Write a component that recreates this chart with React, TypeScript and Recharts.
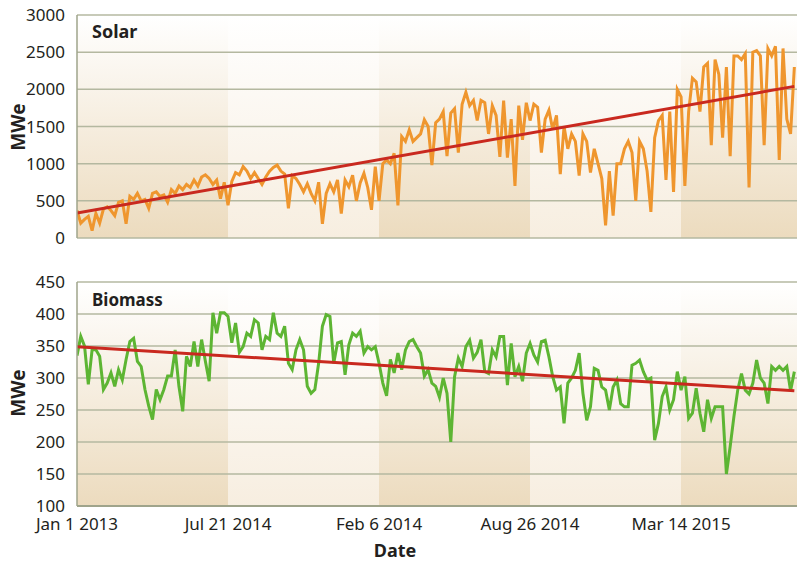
import React from 'react';
import { LineChart, Line, XAxis, YAxis, CartesianGrid } from 'recharts';

// ---------- data ----------
const solarValues = [
  370, 200, 250, 290, 100, 330, 200, 390, 420, 370,
  300, 480, 500, 190, 560, 520, 600, 500, 520, 400,
  600, 620, 560, 580, 480, 650, 600, 700, 650, 720,
  680, 780, 700, 820, 850, 800, 720, 780, 530, 750,
  440, 760, 880, 850, 960, 900, 800, 880,
  800, 720, 820, 900, 950, 980, 900, 860, 400, 840,
  800, 720, 620, 730, 600, 500, 750, 190, 600, 730,
  620, 780, 330, 780, 690, 845, 500, 740, 870, 680,
  380, 960, 500, 1000, 1050, 1000, 1140, 440, 1365, 1300,
  1455, 1300, 1350, 1400, 1590, 1500, 980, 1550,
  1600, 1700, 1100, 1680, 1740, 1150, 1800, 1960, 1780, 1850,
  1580, 1850, 1820, 1400, 1780, 1650, 1090, 1850, 1080, 1600,
  700, 1780, 1320, 1820, 1580, 1800, 1760, 1150, 1600, 1720,
  1460, 1650, 860, 1500, 1200, 1400, 1300, 840, 1400, 1300,
  880, 1200, 1000, 800, 170, 900, 300, 1000,
  1000, 1200, 1300, 1150, 500, 1300, 1200, 900, 350, 1350,
  1580, 1650, 780, 1700, 620, 2000, 1900, 700, 1700, 2150,
  2100, 1700, 2300, 2350, 1250, 2400, 2200, 1350, 2300, 1100,
  2450, 2450, 2400, 2480, 680, 2500, 2520, 2450, 1250, 2550,
  2450, 2580, 1050, 2550, 1600, 1400, 2300,
];

const biomassValues = [
  335, 365, 350, 290, 344, 344, 334, 282, 292, 308,
  287, 313, 297, 329, 357, 362, 326, 318, 282, 256,
  235, 282, 266, 282, 303, 303, 344, 287, 248, 334,
  318, 357, 318, 360, 326, 295, 402, 370, 402, 402,
  396, 355, 386, 340, 349, 370, 365, 391,
  386, 344, 365, 360, 402, 370, 365, 381, 323, 313,
  344, 360, 344, 287, 276, 282, 323, 381, 399, 396,
  323, 355, 357, 305, 352, 370, 365, 373, 339, 349,
  344, 349, 323, 292, 272, 329, 308, 339, 313, 344,
  357, 360, 349, 339, 303, 313, 292, 287,
  270, 300, 276, 200, 302, 331, 318, 349, 359, 331,
  340, 360, 310, 307, 344, 333, 365, 365, 289, 354,
  302, 318, 295, 339, 354, 336, 325, 357, 359, 333,
  302, 281, 286, 229, 292, 300, 312, 339, 276, 234,
  255, 315, 312, 286, 281, 250, 286, 297,
  260, 255, 255, 320, 323, 328, 310, 297, 300, 203,
  229, 271, 286, 250, 266, 310, 281, 302, 237, 245,
  284, 245, 216, 266, 237, 255, 255, 255, 150, 193,
  240, 281, 307, 281, 275, 292, 328, 300, 292, 260,
  318, 312, 318, 312, 318, 280, 310,
];

// linear trend end points (first and last sample)
const solarTrend = [336, 2040];
const biomassTrend = [349, 280];

const xTickIndex = [0, 40, 80, 120, 160];
const xTickLabels = ['Jan 1 2013', 'Jul 21 2014', 'Feb 6 2014', 'Aug 26 2014', 'Mar 14 2015'];
const xMax = 190.7;

const solarTicks = [0, 500, 1000, 1500, 2000, 2500, 3000];
const biomassTicks = [100, 150, 200, 250, 300, 350, 400, 450];

// ---------- helpers ----------
const buildRows = (vals: number[], trend: number[]) =>
  vals.map((v, i) => ({
    i,
    v,
    t: i === 0 ? trend[0] : i === vals.length - 1 ? trend[1] : null,
  }));

const solarRows = buildRows(solarValues, solarTrend);
const biomassRows = buildRows(biomassValues, biomassTrend);

const FONT = "'Noto Sans', 'DejaVu Sans', sans-serif";
const TEXT = '#231F20';
const GRID = '#B4B8A0';
const AXIS = '#9FA48B';

const Gradients = ({ p }: { p: string }) => (
  <defs>
    <linearGradient id={`${p}Dark`} x1="0" y1="0" x2="0" y2="1">
      <stop offset="0%" stopColor="#FFFFFF" />
      <stop offset="100%" stopColor="#ECDBBE" />
    </linearGradient>
    <linearGradient id={`${p}Light`} x1="0" y1="0" x2="0" y2="1">
      <stop offset="0%" stopColor="#FFFFFF" />
      <stop offset="100%" stopColor="#F7EEE0" />
    </linearGradient>
  </defs>
);

const tickStyle = { fill: TEXT, fontSize: 17, fontFamily: FONT };

export default function App() {
  return (
    <div style={{ position: 'absolute', left: 0, top: 0, width: 797, height: 564, background: '#fff', overflow: 'hidden' }}>
      <div style={{ position: 'absolute', left: 0, top: 0 }}>
        <LineChart width={797} height={250} data={solarRows} margin={{ top: 15, right: 0, bottom: 12, left: 0 }}>
          <Gradients p="s" />
          <CartesianGrid vertical horizontal={false} stroke="transparent" verticalFill={['url(#sDark)', 'url(#sLight)']} fillOpacity={1} />
          <CartesianGrid vertical={false} stroke={GRID} strokeWidth={1.5} />
          <XAxis dataKey="i" type="number" domain={[0, xMax]} ticks={xTickIndex} hide allowDataOverflow />
          <YAxis
            type="number"
            domain={[0, 3000]}
            ticks={solarTicks}
            width={77}
            interval={0}
            tickLine={false}
            tickSize={6}
            tickMargin={6}
            axisLine={{ stroke: AXIS, strokeWidth: 1.5 }}
            tick={tickStyle}
          />
          <Line dataKey="v" type="linear" stroke="#EF962E" strokeWidth={3} dot={false} isAnimationActive={false} />
          <Line dataKey="t" type="linear" stroke="#C9291F" strokeWidth={3} dot={false} connectNulls isAnimationActive={false} />
        </LineChart>
      </div>
      <div style={{ position: 'absolute', left: 0, top: 260 }}>
        <LineChart width={797} height={304} data={biomassRows} margin={{ top: 22, right: 0, bottom: 0, left: 0 }}>
          <Gradients p="b" />
          <CartesianGrid vertical horizontal={false} stroke="transparent" verticalFill={['url(#bDark)', 'url(#bLight)']} fillOpacity={1} />
          <CartesianGrid vertical={false} stroke={GRID} strokeWidth={1.5} />
          <XAxis
            dataKey="i"
            type="number"
            domain={[0, xMax]}
            ticks={xTickIndex}
            interval={0}
            height={58}
            tickLine={false}
            tickSize={6}
            tickMargin={6}
            axisLine={{ stroke: AXIS, strokeWidth: 2 }}
            tick={tickStyle}
            tickFormatter={(v: number) => xTickLabels[xTickIndex.indexOf(v)]}
            allowDataOverflow
          />
          <YAxis
            type="number"
            domain={[100, 450]}
            ticks={biomassTicks}
            width={77}
            interval={0}
            tickLine={false}
            tickSize={6}
            tickMargin={6}
            axisLine={{ stroke: AXIS, strokeWidth: 1.5 }}
            tick={tickStyle}
          />
          <Line dataKey="v" type="linear" stroke="#5DB533" strokeWidth={3} dot={false} isAnimationActive={false} />
          <Line dataKey="t" type="linear" stroke="#C9291F" strokeWidth={3} dot={false} connectNulls isAnimationActive={false} />
        </LineChart>
      </div>
      <svg width={797} height={564} style={{ position: 'absolute', left: 0, top: 0, pointerEvents: 'none' }}>
        <g fontFamily={FONT} fontWeight="bold" fill={TEXT}>
          <text x={92} y={38} fontSize={18}>Solar</text>
          <text x={92} y={306} fontSize={17}>Biomass</text>
          <text x={25} y={127} fontSize={19} textAnchor="middle" transform="rotate(-90 25 127)">MWe</text>
          <text x={25} y={393} fontSize={19} textAnchor="middle" transform="rotate(-90 25 393)">MWe</text>
          <text x={395} y={557} fontSize={18} textAnchor="middle">Date</text>
        </g>
      </svg>
    </div>
  );
}
